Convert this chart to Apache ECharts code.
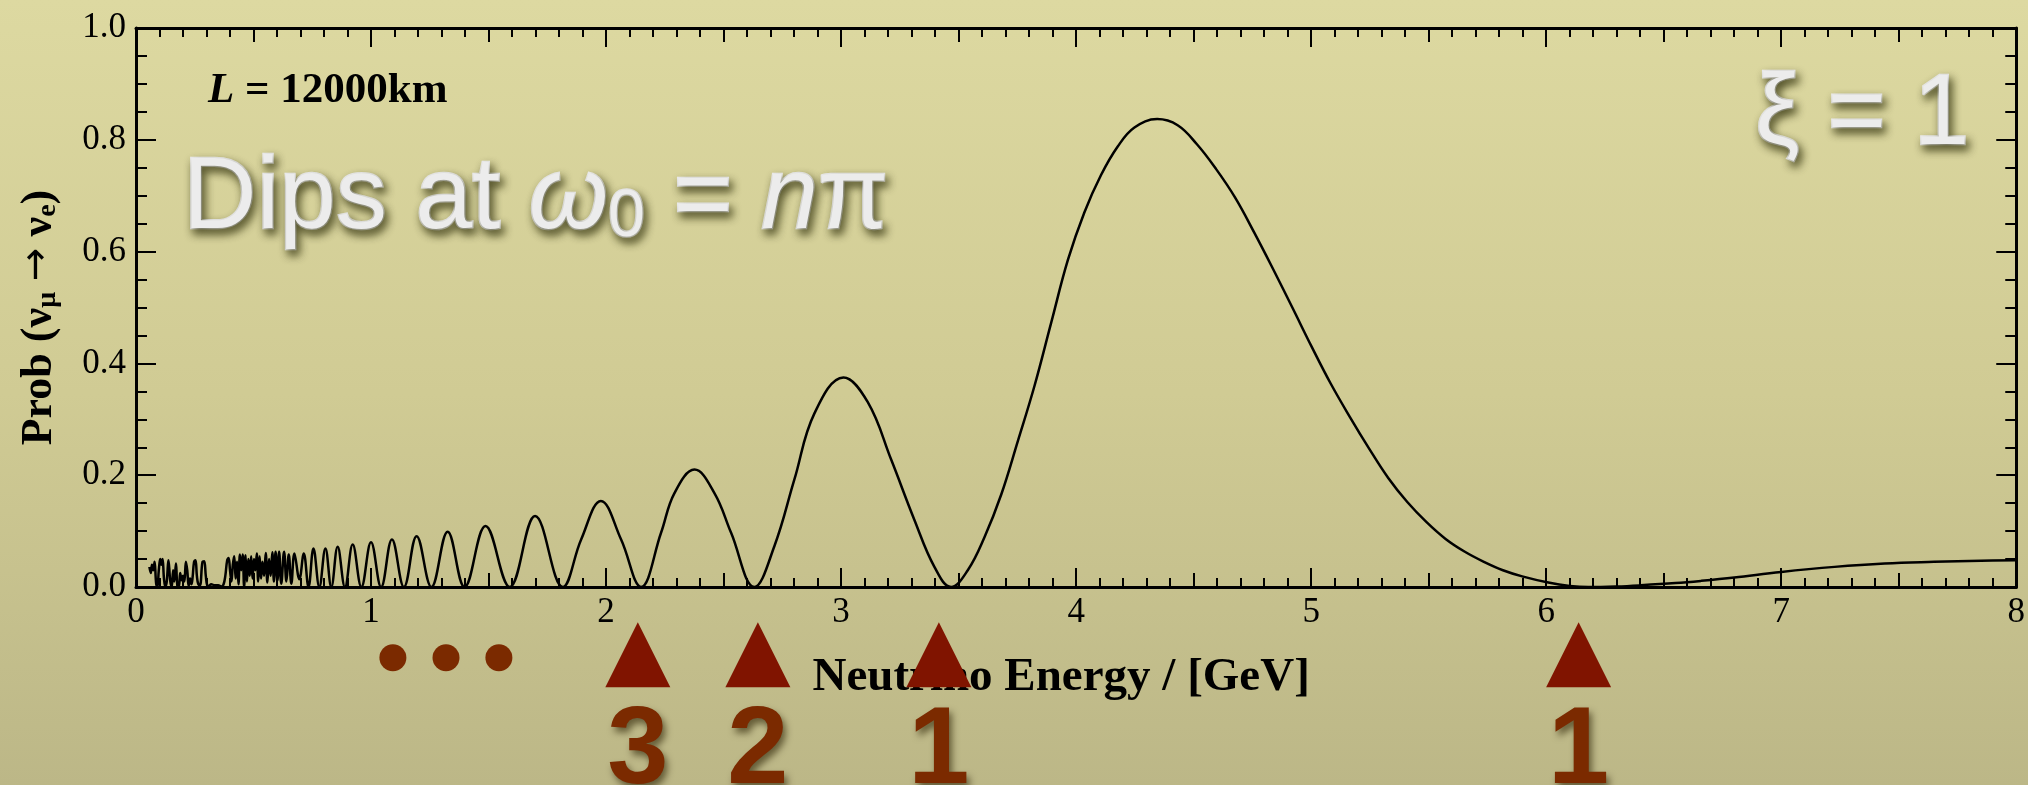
<!DOCTYPE html>
<html><head><meta charset="utf-8">
<script src="https://cdn.jsdelivr.net/npm/echarts@6/dist/echarts.min.js"></script>
<style>html,body{margin:0;padding:0;background:#d0cb96;} #c{width:2028px;height:785px;}</style>
</head><body><div id="c"></div>
<script>
// Neutrino energy (GeV) and transition probability
const energy = [
 0.057,0.063,0.068,0.074,0.079,0.086,0.091,0.097,0.103,0.108,0.113,0.119,0.125,0.131,0.138,0.146,0.152,0.158,0.163,0.170,
 0.176,0.182,0.188,0.194,0.200,0.206,0.212,0.218,0.224,0.230,0.236,0.241,0.247,0.253,0.259,0.265,0.272,0.283,0.290,0.297,
 0.303,0.310,0.320,0.335,0.350,0.362,0.372,0.380,0.388,0.394,0.400,0.406,0.412,0.418,0.424,0.430,0.436,0.442,0.448,0.454,
 0.460,0.466,0.472,0.478,0.484,0.490,0.496,0.502,0.508,0.514,0.520,0.526,0.532,0.538,0.545,0.552,0.559,0.566,0.573,0.580,
 0.587,0.594,0.602,0.609,0.618,0.630,0.640,0.650,0.661,0.674,0.695,0.714,
 0.734,0.755,0.780,0.806,0.831,0.858,0.889,0.922,0.959,1.000,1.043,1.089,1.140,1.194,1.257,1.326,1.398,1.487,1.590,1.698,
 1.816,1.894,1.978,2.064,2.149,2.234,2.291,2.376,2.461,2.532,2.631,2.716,2.801,2.887,3.010,3.113,3.213,3.312,3.397,3.468,
 3.539,3.610,3.681,3.752,3.823,3.894,3.965,4.035,4.106,4.177,4.248,4.345,4.432,4.514,4.595,4.676,4.758,4.839,4.921,5.002,
 5.083,5.165,5.246,5.328,5.409,5.491,5.572,5.654,5.735,5.816,5.898,6.009,6.100,6.180,6.300,6.400,6.550,6.660,6.800,7.000,
 7.227,7.440,7.650,7.850,8.000
];
const prob = [
 0.036,0.025,0.040,0.030,0.045,0.005,0.000,0.030,0.050,0.040,0.050,0.015,0.000,0.010,0.048,0.010,0.000,0.030,0.010,0.042,
 0.002,0.000,0.025,0.012,0.020,0.010,0.045,0.030,0.002,0.015,0.005,0.018,0.045,0.048,0.020,0.005,0.003,0.045,0.046,0.020,
 0.003,0.002,0.005,0.003,0.003,0.001,0.004,0.020,0.048,0.052,0.030,0.010,0.040,0.055,0.015,0.045,0.005,0.058,0.030,0.058,
 0.000,0.057,0.010,0.050,0.020,0.055,0.015,0.050,0.030,0.060,0.010,0.055,0.015,0.045,0.020,0.061,0.008,0.050,0.020,0.062,
 0.010,0.063,0.012,0.063,0.006,0.063,0.010,0.058,0.006,0.060,0.014,0.060,
 0.000,0.069,0.000,0.069,0.000,0.072,0.000,0.076,0.000,0.080,0.000,0.085,0.000,0.091,0.000,0.099,0.000,0.109,0.000,0.127,
 0.000,0.085,0.154,0.085,0.000,0.097,0.168,0.210,0.168,0.097,0.000,0.073,0.192,0.311,0.375,0.331,0.228,0.120,0.036,0.000,
 0.030,0.089,0.165,0.261,0.360,0.473,0.585,0.670,0.737,0.788,0.822,0.837,0.826,0.792,0.748,0.697,0.634,0.568,0.499,0.430,
 0.364,0.304,0.248,0.195,0.152,0.116,0.086,0.063,0.045,0.030,0.019,0.008,0.002,0.000,0.001,0.003,0.007,0.011,0.017,0.027,
 0.036,0.042,0.045,0.047,0.048
];
const yTickLabels = ['0.0','0.2','0.4','0.6','0.8','1.0'];
const xTickLabels = ['0','1','2','3','4','5','6','7','8'];
// dips at omega0 = n*pi, marked below the axis
const dipEnergy = [2.135, 2.646, 3.416, 6.138];
const dipLabels = ['3', '2', '1', '1'];
const dotEnergy = [1.093, 1.319, 1.544];
const markerLevel = -0.121;
const dotLevel = -0.1265;

const serif = '"Liberation Serif", "Times New Roman", serif';
const sans = '"Liberation Sans", Arial, Helvetica, sans-serif';
const lightText = '#ececec';
const shadow = {textShadowColor: 'rgba(45,45,10,0.75)', textShadowBlur: 8, textShadowOffsetX: 3, textShadowOffsetY: 5,
  textBorderColor: '#ececec', textBorderWidth: 2.5};

function xAxisDef(position, interval, tickLen, withMinor, withLine, withLabels) {
  return {
    type: 'value', gridIndex: 0, min: 0, max: 8, interval: interval, position: position,
    axisLine: {show: withLine, onZero: false, lineStyle: {color: '#000', width: 3}},
    axisTick: {show: true, inside: true, length: tickLen, lineStyle: {color: '#000', width: 2}},
    minorTick: {show: withMinor, splitNumber: 10, length: 9, lineStyle: {color: '#000', width: 2}},
    splitLine: {show: false}, minorSplitLine: {show: false},
    axisLabel: {show: withLabels, margin: 8, fontFamily: serif, fontSize: 35, color: '#000',
      formatter: v => xTickLabels[Math.round(v)]}
  };
}
function yAxisDef(position, withLabels) {
  return {
    type: 'value', gridIndex: 0, min: 0, max: 1, interval: 0.2, position: position,
    axisLine: {show: true, onZero: false, lineStyle: {color: '#000', width: 3}},
    axisTick: {show: true, inside: true, length: 20, lineStyle: {color: '#000', width: 2}},
    minorTick: {show: true, splitNumber: 4, length: 11, lineStyle: {color: '#000', width: 2}},
    splitLine: {show: false}, minorSplitLine: {show: false},
    axisLabel: {show: withLabels, margin: 10, fontFamily: serif, fontSize: 35, color: '#000',
      formatter: v => yTickLabels[Math.round(v / 0.2)]}
  };
}

const xBottom = xAxisDef('bottom', 1, 19, true, true, true);
xBottom.name = 'Neutrino Energy / [GeV]';
xBottom.nameLocation = 'middle';
xBottom.nameGap = 67;
xBottom.nameTextStyle = {fontFamily: serif, fontWeight: 'bold', fontSize: 47, color: '#000', padding: [0, 30, 0, 0]};

const yLeft = yAxisDef('left', true);
const nameMain = {fontFamily: serif, fontWeight: 'bold', fontSize: 44, lineHeight: 44, color: '#000', verticalAlign: 'top'};
const nameArrow = {fontFamily: '"DejaVu Sans", sans-serif', fontWeight: 'normal', fontSize: 40, lineHeight: 44, color: '#000', verticalAlign: 'top'};
const nameSub = {fontFamily: serif, fontWeight: 'bold', fontSize: 28, lineHeight: 28, color: '#000', verticalAlign: 'bottom', padding: [22, 0, 0, 0]};
yLeft.name = '{t|Prob (ν}{s|μ}{t| }{a|→}{t| ν}{s|e}{t|)}';
yLeft.nameLocation = 'middle';
yLeft.nameGap = 74;
yLeft.nameTextStyle = {rich: {t: nameMain, s: nameSub, a: nameArrow}, padding: [0, 20, 0, 0]};

const dipsMain = Object.assign({fontFamily: sans, fontWeight: 'normal', fontSize: 102, lineHeight: 102, color: lightText}, shadow);
const option = {
  animation: false,
  backgroundColor: {type: 'linear', x: 0, y: 0, x2: 0, y2: 1,
    colorStops: [{offset: 0, color: '#ddd9a1'}, {offset: 0.5, color: '#d0cb94'}, {offset: 1, color: '#bcb787'}]},
  grid: {left: 136, right: 11, top: 28, bottom: 198, containLabel: false},
  title: [
    {text: '{i|L}{b| = 12000km}', left: 208, top: 69, padding: 0,
     textStyle: {rich: {
       i: {fontFamily: serif, fontWeight: 'bold', fontStyle: 'italic', fontSize: 43, lineHeight: 43, color: '#000'},
       b: {fontFamily: serif, fontWeight: 'bold', fontSize: 43, lineHeight: 43, color: '#000'}}}},
    {text: '{a|Dips at }{i|ω}{s|0}{a| = }{i|n}{a|π}', left: 183, top: 149, padding: 0,
     textStyle: {rich: {
       a: dipsMain,
       i: Object.assign({}, dipsMain, {fontStyle: 'italic'}),
       s: Object.assign({}, dipsMain, {fontSize: 66, lineHeight: 66, verticalAlign: 'bottom'})}}},
    {text: 'ξ = 1', left: 1755, top: 66, padding: 0,
     textStyle: Object.assign({fontFamily: sans, fontSize: 100, lineHeight: 100, color: lightText, fontWeight: 'normal'}, shadow)}
  ],
  xAxis: [
    xBottom,
    xAxisDef('bottom', 0.5, 14, false, false, false),
    xAxisDef('top', 1, 19, true, true, false),
    xAxisDef('top', 0.5, 14, false, false, false)
  ],
  yAxis: [yLeft, yAxisDef('right', false)],
  series: [
    {type: 'line', xAxisIndex: 0, yAxisIndex: 0, showSymbol: false, smooth: 0.4,
     data: energy.map((e, i) => [e, prob[i]]),
     lineStyle: {color: '#000', width: 2.5}, z: 3},
    {type: 'scatter', xAxisIndex: 0, yAxisIndex: 0, clip: false, symbol: 'triangle', symbolSize: [65, 65],
     data: dipEnergy.map(e => [e, markerLevel]),
     itemStyle: {color: '#801400', opacity: 1},
     label: {show: true, position: 'bottom', distance: 11,
       formatter: p => dipLabels[p.dataIndex],
       fontFamily: sans, fontWeight: 'bold', fontSize: 110, lineHeight: 110, color: '#7b2a00',
       textShadowColor: 'rgba(40,30,0,0.6)', textShadowBlur: 7, textShadowOffsetX: 3, textShadowOffsetY: 5},
     z: 4},
    {type: 'scatter', xAxisIndex: 0, yAxisIndex: 0, clip: false, symbol: 'circle', symbolSize: 27,
     data: dotEnergy.map(e => [e, dotLevel]),
     itemStyle: {color: '#7b2a00', opacity: 1}, z: 4}
  ]
};
const chart = echarts.init(document.getElementById('c'), null, {renderer: 'canvas'});
chart.setOption(option);
</script>
</body></html>
